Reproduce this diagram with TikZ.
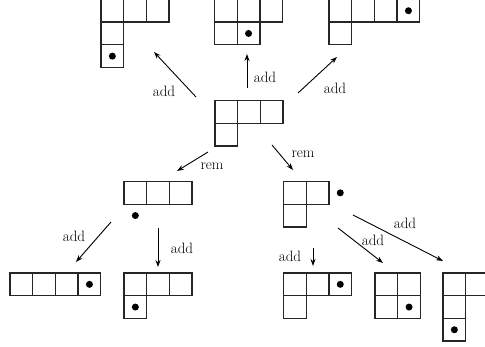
\documentclass[tikz,border=0pt]{standalone}
\usetikzlibrary{arrows.meta,calc}
\begin{document}
\begin{tikzpicture}[x=1pt,y=-1pt,
  cellbox/.style={draw=black!85,line width=1.25pt},
  dotmark/.style={fill=black},
  move/.style={-{Stealth[length=7pt,width=5pt]},line width=0.9pt},
  lbl/.style={font=\fontsize{15}{17}\selectfont,inner sep=0pt}]
\useasboundingbox (0,0) rectangle (485,347);
\def\s{22.7}
% a Young diagram: origin, list of cells col/row, dot cell col/row
\newcommand\youngdiag[4]{%
  \coordinate (#1) at #2;
  \foreach \c/\r in {#3}
    \draw[cellbox] ($(#1)+(\c*\s,\r*\s)$) rectangle ++(\s,\s);
  \foreach \c/\r in {#4}
    \fill[dotmark] ($(#1)+(\c*\s+0.5*\s,\r*\s+0.5*\s)$) circle (3.5pt);
}
\begin{scope}
\clip (0,0) rectangle (485,347);
% top row
\youngdiag{tl}{(101,-0.6)}{0/0,1/0,2/0,0/1,0/2}{0/2}
\youngdiag{tm}{(214.5,-0.6)}{0/0,1/0,2/0,0/1,1/1}{1/1}
\youngdiag{tr}{(329,-0.6)}{0/0,1/0,2/0,3/0,0/1}{3/0}
% centre
\youngdiag{c}{(215,100.5)}{0/0,1/0,2/0,0/1}{}
% middle row
\youngdiag{lm}{(124,181.5)}{0/0,1/0,2/0}{0/1}
\youngdiag{rm}{(283.5,181.5)}{0/0,1/0,0/1}{2/0}
% bottom row
\youngdiag{b1}{(10,273)}{0/0,1/0,2/0,3/0}{3/0}
\youngdiag{b2}{(124,273)}{0/0,1/0,2/0,0/1}{0/1}
\youngdiag{b3}{(283.5,273)}{0/0,1/0,2/0,0/1}{2/0}
\youngdiag{b4}{(375,273)}{0/0,1/0,0/1,1/1}{1/1}
\youngdiag{b5}{(443,273)}{0/0,1/0,2/0,0/1,0/2}{0/2}
\end{scope}
% arrow end points
\coordinate (c-tl-a) at (196,97);   \coordinate (c-tl-b) at (154,52);
\coordinate (c-tm-a) at (247,88);   \coordinate (c-tm-b) at (247,54);
\coordinate (c-tr-a) at (298,93);   \coordinate (c-tr-b) at (337,57);
\coordinate (c-lm-a) at (208,152);  \coordinate (c-lm-b) at (177,171);
\coordinate (c-rm-a) at (272,145);  \coordinate (c-rm-b) at (293,170);
\coordinate (lm-b1-a) at (111,222); \coordinate (lm-b1-b) at (76,262);
\coordinate (lm-b2-a) at (158,228); \coordinate (lm-b2-b) at (158,267);
\coordinate (rm-b3-a) at (313,248); \coordinate (rm-b3-b) at (313,266);
\coordinate (rm-b4-a) at (338,228); \coordinate (rm-b4-b) at (383,263);
\coordinate (rm-b5-a) at (353,215); \coordinate (rm-b5-b) at (443,261);
\draw[move] (c-tl-a) -- (c-tl-b);
\draw[move] (c-tm-a) -- (c-tm-b);
\draw[move] (c-tr-a) -- (c-tr-b);
\draw[move] (c-lm-a) -- (c-lm-b);
\draw[move] (c-rm-a) -- (c-rm-b);
\draw[move] (lm-b1-a) -- (lm-b1-b);
\draw[move] (lm-b2-a) -- (lm-b2-b);
\draw[move] (rm-b3-a) -- (rm-b3-b);
\draw[move] (rm-b4-a) -- (rm-b4-b);
\draw[move] (rm-b5-a) -- (rm-b5-b);
% labels
\node[lbl] (l1) at (164,91) {add};
\node[lbl] (l2) at (265,77) {add};
\node[lbl] (l3) at (335,88) {add};
\node[lbl] (l4) at (212,166) {rem};
\node[lbl] (l5) at (303,154) {rem};
\node[lbl] (l6) at (74,236) {add};
\node[lbl] (l7) at (182,248) {add};
\node[lbl] (l8) at (290,256) {add};
\node[lbl] (l9) at (373,240) {add};
\node[lbl] (l10) at (405,223) {add};
\end{tikzpicture}
\end{document}
